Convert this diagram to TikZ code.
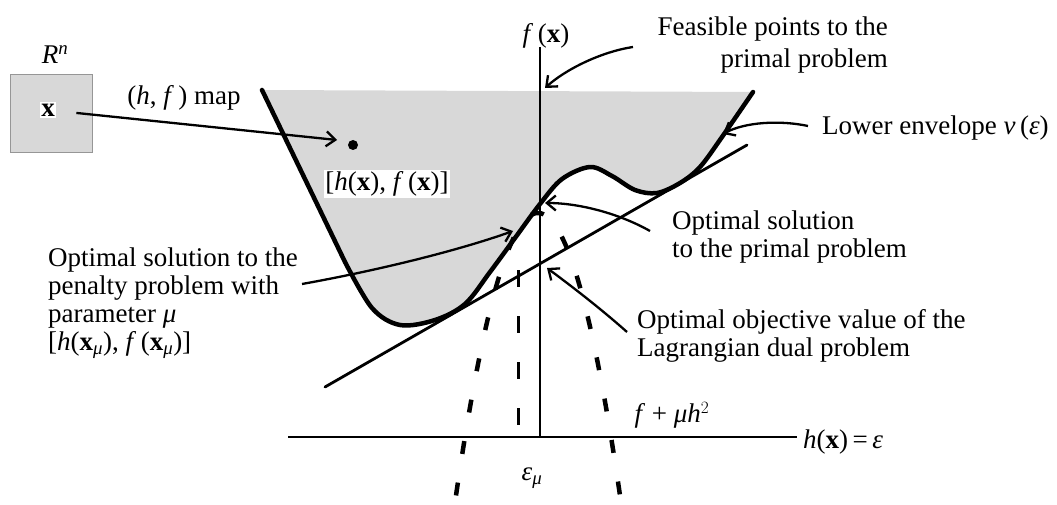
\documentclass[tikz,border=0pt]{standalone}
\usepackage{amsmath}
\usepackage{fontspec}
\setmainfont{Liberation Serif}
\usetikzlibrary{arrows.meta}
\definecolor{regiongray}{RGB}{216,216,216}
\definecolor{boxedge}{RGB}{150,150,150}
\begin{document}
\begin{tikzpicture}[x=1pt,y=-1pt,
  lbl/.style={font=\fontsize{27}{28}\selectfont, inner sep=0pt, align=left},
  arr/.style={line width=2.3pt, -{Straight Barb[length=9pt,width=15pt]}},
  envline/.style={line width=4.5pt, line join=round, line cap=round},
  axisline/.style={line width=2.8pt},
  tangline/.style={line width=2.8pt, line cap=round},
  dsh/.style={line width=4.5pt, dash pattern=on 13pt off 29pt},
  vdsh/.style={line width=3pt, dash pattern=on 17pt off 29pt}]
\useasboundingbox (0,0) rectangle (1057,505);

% shaded region above the lower envelope
\fill[regiongray] (262,90) -- (345,262) -- plot[smooth,tension=0.55] coordinates {(345,262) (372,308) (400,325) (435,320) (465,304) (490,272) (515,238) (540,204) (562,179) (590,167) (612,176) (635,190) (657,193) (680,183) (700,167) (722,137) (753,92)} -- cycle;

% R^n box
\node[draw=boxedge, line width=1pt, fill=regiongray, minimum width=82pt, minimum height=78pt, inner sep=0pt] (rn) at (51,114) {};
\node[lbl] (rnlbl) at (55,55) {\textit{R}$^{\textit{n}}$};
\node[lbl, fill=white, inner sep=1.5pt] (xin) at (48,110) {\textbf{x}};

% axes
\coordinate (vtop) at (540,47);
\coordinate (vbot) at (540,437);
\coordinate (hleft) at (288,437);
\coordinate (hright) at (797,437);
\draw[axisline] (vbot) -- (vtop);
\draw[axisline] (hleft) -- (hright);

% supporting line
\coordinate (tl) at (325,387);
\coordinate (tr) at (747,145);
\draw[tangline] (tl) -- (tr);

% lower envelope
\draw[envline] (262,90) -- (345,262) -- plot[smooth,tension=0.55] coordinates {(345,262) (372,308) (400,325) (435,320) (465,304) (490,272) (515,238) (540,204) (562,179) (590,167) (612,176) (635,190) (657,193) (680,183) (700,167) (722,137) (753,92)};

% penalty contour f + mu h^2 and epsilon_mu
\draw[dsh] plot[domain=456:621, samples=90] (\x, {213+0.042*(\x-538)*(\x-538)});
\coordinate (emtop) at (518,270);
\coordinate (embot) at (518,437);
\draw[vdsh] (emtop) -- (embot);

% point and labels
\fill (353,145) circle (5pt);
\coordinate (mapTip) at (337,140);
\node[lbl] (maplbl) at (184,98) {(\textit{h}, \textit{f}\,) map};
\node[lbl, fill=white, inner sep=1.5pt] (hxlbl) at (387,184) {[\textit{h}(\textbf{x}),\ \textit{f}\,(\textbf{x})]};
\node[lbl] (fx) at (546,36) {\textit{f}\,(\textbf{x})};
\node[lbl, align=right, anchor=east, font=\fontsize{27}{32}\selectfont] (feas) at (888,45) {Feasible points to the\\primal problem};
\node[lbl, anchor=west] (lenv) at (822,128) {Lower envelope \textit{ν}\,(\textit{ε})};
\node[lbl, anchor=west] (optp) at (672,237) {Optimal solution\\to the primal problem};
\node[lbl, anchor=west] (optd) at (637,336) {Optimal objective value of the\\Lagrangian dual problem};
\node[lbl, anchor=west] (pen) at (48,303) {Optimal solution to the\\penalty problem with\\parameter \textit{μ}\\{[}\textit{h}(\textbf{x}$_{\textit{μ}}$), \textit{f}\,(\textbf{x}$_{\textit{μ}}$)]};
\node[lbl] (fmu) at (672,415) {\textit{f} + \textit{μh}$^{2}$};
\node[lbl, anchor=west] (hxe) at (803,442) {\textit{h}(\textbf{x})\,=\,\textit{ε}};
\node[lbl] (emu) at (532,478) {\textit{ε}$_{\textit{μ}}$};

% arrows
\coordinate (feasStart) at (633,47);
\coordinate (feasTip) at (545,88);
\coordinate (lenvStart) at (808,126);
\coordinate (lenvTip) at (723,134);
\coordinate (optpStart) at (650,231);
\coordinate (optpTip) at (545,203);
\coordinate (optdStart) at (627,332);
\coordinate (optdTip) at (547,268);
\coordinate (penStart) at (302,284);
\coordinate (penTip) at (513,231);
\draw[arr, shorten <=20pt] (xin) -- (mapTip);
\draw[arr] (feasStart) .. controls (600,52) and (565,70) .. (feasTip);
\draw[arr] (lenvStart) .. controls (780,120) and (745,122) .. (lenvTip);
\draw[arr] (optpStart) .. controls (620,214) and (580,203) .. (optpTip);
\draw[arr] (optdStart) .. controls (600,308) and (570,285) .. (optdTip);
\draw[arr] (penStart) .. controls (380,270) and (460,250) .. (penTip);
\end{tikzpicture}
\end{document}
